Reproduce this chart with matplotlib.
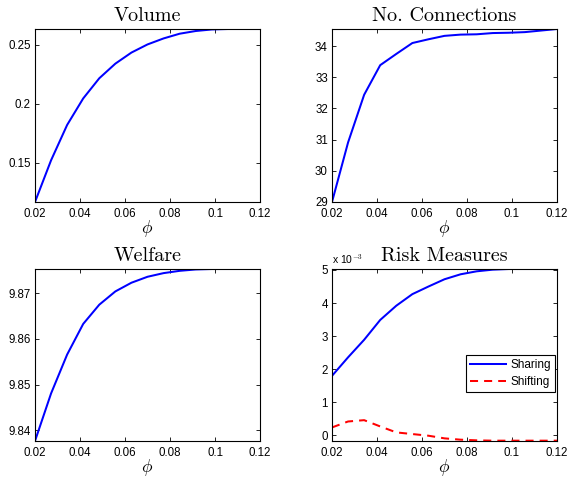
import numpy as np
import matplotlib
matplotlib.use("Agg")
import matplotlib.pyplot as plt
from matplotlib.ticker import FormatStrFormatter

plt.rcParams['mathtext.fontset'] = 'cm'
plt.rcParams['font.family'] = ['Liberation Sans', 'DejaVu Sans']

# ---- data ----
phi = [0.02 + k * 0.1 / 14 for k in range(15)]
volume = [0.1166, 0.152, 0.182, 0.2045, 0.2216, 0.234, 0.2434, 0.2503, 0.2554,
          0.2594, 0.2617, 0.2630, 0.2634, 0.2634, 0.2634]
connections = [29.0, 30.91, 32.44, 33.39, 33.75, 34.10, 34.22, 34.33, 34.37,
               34.38, 34.42, 34.43, 34.45, 34.50, 34.55]
welfare = [9.8377, 9.8481, 9.8566, 9.8633, 9.8675, 9.8704, 9.8723, 9.8736, 9.8744,
           9.8749, 9.8752, 9.8753, 9.8753, 9.8753, 9.8753]
sharing = [1.80, 2.36, 2.89, 3.49, 3.92, 4.27, 4.50, 4.72, 4.87, 4.96, 5.01, 5.03,
           5.03, 5.03, 5.03]  # x 1e-3
shifting = [0.24, 0.42, 0.46, 0.27, 0.09, 0.04, -0.01, -0.09, -0.13, -0.15, -0.16,
            -0.16, -0.16, -0.16, -0.16]  # x 1e-3

xticks = [0.02, 0.04, 0.06, 0.08, 0.1, 0.12]

W, H = 571, 478
fig = plt.figure(figsize=(W / 100, H / 100), dpi=100)

def make_ax(l, t, r, b):
    return fig.add_axes([l / W, 1 - b / H, (r - l) / W, (b - t) / H])

axs = [make_ax(35, 29, 260, 202), make_ax(332, 29, 557, 202),
       make_ax(35, 269, 260, 441), make_ax(332, 269, 557, 441)]

titles = ['Volume', 'No. Connections', 'Welfare', 'Risk Measures']
lw = 1.45
blue = (0, 0, 1)

axs[0].plot(phi, volume, color=blue, lw=lw)
axs[0].set_ylim(0.1166, 0.2634)
axs[0].set_yticks([0.15, 0.2, 0.25])

axs[1].plot(phi, connections, color=blue, lw=lw)
axs[1].set_ylim(29.0, 34.55)
axs[1].set_yticks([29, 30, 31, 32, 33, 34])

axs[2].plot(phi, welfare, color=blue, lw=lw)
axs[2].set_ylim(9.8377, 9.8753)
axs[2].set_yticks([9.84, 9.85, 9.86, 9.87])

axs[3].plot(phi, sharing, color=blue, lw=lw, label='Sharing')
axs[3].plot(phi, shifting, color=(1, 0, 0), lw=lw, ls=(0, (4, 3)), label='Shifting')
axs[3].set_ylim(-0.17, 5.03)
axs[3].set_yticks([0, 1, 2, 3, 4, 5])
axs[3].text(0.0, 1.02, r'x 10$^{-3}$', transform=axs[3].transAxes,
            fontsize=7.5, ha='left', va='bottom')
leg = axs[3].legend(loc='upper right', bbox_to_anchor=(0.991, 0.50),
                    fontsize=8.5, frameon=True, fancybox=False, framealpha=1,
                    edgecolor='black', handlelength=3.0, borderpad=0.35,
                    labelspacing=0.4, handletextpad=0.4, borderaxespad=0)
leg.get_frame().set_linewidth(0.8)

for ax, t in zip(axs, titles):
    ax.set_xlim(0.02, 0.12)
    ax.set_xticks(xticks)
    ax.xaxis.set_major_formatter(FormatStrFormatter('%g'))
    ax.yaxis.set_major_formatter(FormatStrFormatter('%g'))
    ax.tick_params(direction='in', top=True, right=True, length=3, width=0.6,
                   labelsize=8.3)
    ax.tick_params(axis='x', pad=4.2)
    ax.tick_params(axis='y', pad=3)
    for s in ax.spines.values():
        s.set_linewidth(0.8)
    ax.set_title(t, fontfamily='cmr10', fontsize=14.5, pad=5.5)
    ax.set_xlabel(r'$\phi$', fontsize=12.5, labelpad=-1)

fig.savefig('out.png', dpi=100)
